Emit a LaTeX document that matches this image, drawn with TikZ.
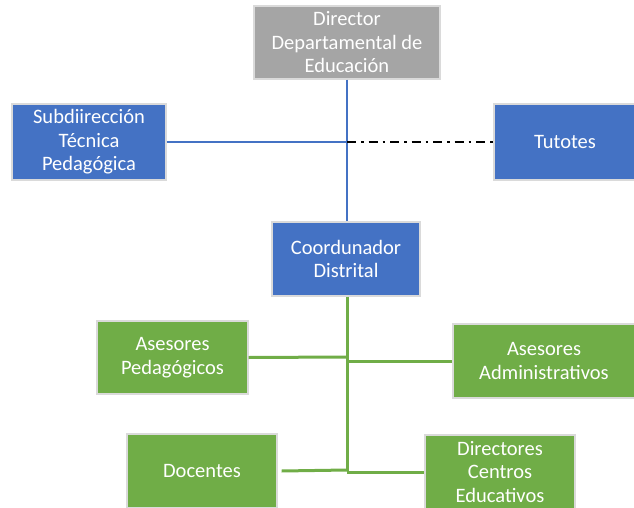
\documentclass[tikz,border=0pt]{standalone}
\usepackage{fontspec}
\setmainfont{Carlito}
\definecolor{bblue}{HTML}{4472C4}
\definecolor{bgray}{HTML}{A5A5A5}
\definecolor{bgreen}{HTML}{70AD47}
\definecolor{bedge}{HTML}{DADADA}
\begin{document}
\begin{tikzpicture}[x=1pt,y=-1pt,
  box/.style={draw=bedge,line width=1.2pt,text=white,align=center,inner sep=0pt,
    font=\fontsize{20.5}{23.5}\selectfont},
  bluebox/.style={box,fill=bblue},
  graybox/.style={box,fill=bgray},
  greenbox/.style={box,fill=bgreen},
  bline/.style={draw=bblue,line width=2.5pt},
  gline/.style={draw=bgreen,line width=3pt},
  dline/.style={draw=black,line width=2.5pt,dash pattern=on 9pt off 5pt on 2.5pt off 5pt}]
\useasboundingbox (0,0) rectangle (634,508);
\node[graybox,minimum width=186pt,minimum height=73pt] (dir) at (347,42.5) {Director\\Departamental de\\Educación};
\node[bluebox,minimum width=154pt,minimum height=76pt] (sub) at (89,142) {Subdiirección\\Técnica\\Pedagógica};
\node[bluebox,minimum width=142pt,minimum height=76pt] (tut) at (565,142) {Tutotes};
\node[bluebox,minimum width=148pt,minimum height=74pt] (coo) at (346,259) {Coordunador\\Distrital};
\node[greenbox,minimum width=151pt,minimum height=73pt] (ap) at (172.5,357.5) {Asesores\\Pedagógicos};
\node[greenbox,minimum width=182pt,minimum height=74pt] (aa) at (544,361) {Asesores\\Administrativos};
\node[greenbox,minimum width=150pt,minimum height=74pt] (doc) at (202,471) {Docentes};
\node[greenbox,minimum width=150pt,minimum height=74pt] (dce) at (500,472) {Directores\\Centros\\Educativos};
\coordinate (jt) at (347,142);
\coordinate (j1) at (347,357);
\coordinate (j2) at (347,361);
\coordinate (j3) at (347,470);
\coordinate (j4) at (347,472);
\draw[bline] (dir.south -| jt) -- (coo.north -| jt);
\draw[bline] (sub.east) -- (jt);
\draw[dline] (jt) -- (tut.west);
\draw[gline] (coo.south -| jt) -- ([yshift=1.5pt]j4);
\draw[gline] (ap.east) -- (j1);
\draw[gline] (j2) -- (aa.west);
\draw[gline] ([xshift=4pt]doc.east) -- (j3);
\draw[gline] (j4) -- (dce.west);
\end{tikzpicture}
\end{document}
